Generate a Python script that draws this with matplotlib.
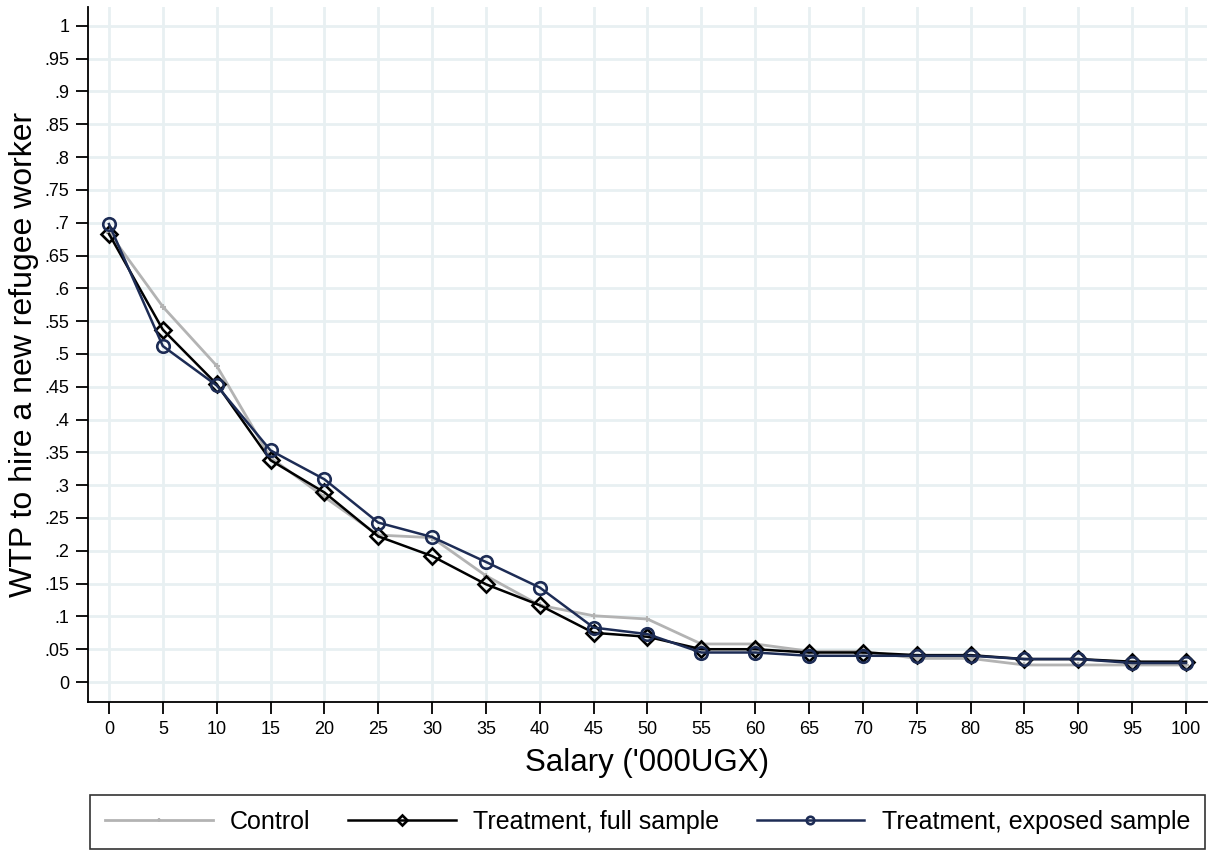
import numpy as np
import matplotlib
matplotlib.use("Agg")
import matplotlib.pyplot as plt

plt.rcParams['font.family'] = ['Liberation Sans', 'DejaVu Sans']

# Salary levels ('000 UGX) and share willing to hire
salary = [0, 5, 10, 15, 20, 25, 30, 35, 40, 45, 50,
          55, 60, 65, 70, 75, 80, 85, 90, 95, 100]
control = [0.685, 0.572, 0.482, 0.342, 0.282, 0.224, 0.220, 0.162, 0.117, 0.101, 0.096,
           0.058, 0.058, 0.047, 0.047, 0.036, 0.036, 0.026, 0.026, 0.026, 0.026]
treat_full = [0.683, 0.537, 0.454, 0.338, 0.289, 0.222, 0.192, 0.149, 0.117, 0.075, 0.069,
              0.050, 0.050, 0.045, 0.045, 0.041, 0.041, 0.035, 0.035, 0.031, 0.031]
treat_exposed = [0.698, 0.512, 0.452, 0.353, 0.309, 0.243, 0.221, 0.183, 0.144, 0.083, 0.073,
                 0.045, 0.045, 0.040, 0.040, 0.040, 0.040, 0.035, 0.035, 0.029, 0.029]

yticks = np.round(np.arange(0, 1.0001, 0.05), 2)
ytick_labels = ['0' if v == 0 else ('1' if v == 1 else ('%g' % v).lstrip('0')) for v in yticks]

fig = plt.figure(figsize=(12.15, 8.52), dpi=100)
ax = fig.add_axes([0.0724, 0.176, 0.921, 0.816])

grid_col = '#e8f0f2'
ax.set_xticks(salary)
ax.set_yticks(yticks)
ax.set_yticklabels(ytick_labels)
ax.grid(True, color=grid_col, linewidth=2.0, zorder=0)
ax.set_axisbelow(True)

ax.plot(salary, control, color='#b3b3b3', lw=2.0, marker='+', ms=4, mew=1.5,
        label='Control', zorder=2)
ax.plot(salary, treat_full, color='black', lw=1.8, marker='D', ms=8.5, mew=1.9,
        mfc='none', label='Treatment, full sample', zorder=3)
ax.plot(salary, treat_exposed, color='#1d2c55', lw=1.8, marker='o', ms=9, mew=1.9,
        mfc='none', label='Treatment, exposed sample', zorder=4)

ax.set_xlim(-1.95, 101.95)
ax.set_ylim(-0.0305, 1.029)

for s in ['top', 'right']:
    ax.spines[s].set_visible(False)
ax.spines['left'].set_linewidth(1.3)
ax.spines['bottom'].set_linewidth(1.3)
ax.tick_params(axis='both', labelsize=13, width=1.3, length=8.5, pad=5)

ax.set_xlabel("Salary ('000UGX)", fontsize=22.5, labelpad=7)
ax.set_ylabel("WTP to hire a new refugee worker", fontsize=23, labelpad=4)

leg = fig.legend(loc='center', bbox_to_anchor=(0.533, 0.0355), ncol=3, fontsize=18,
                 frameon=True, fancybox=False, edgecolor='black',
                 handlelength=4.3, handletextpad=0.7, columnspacing=1.5,
                 borderpad=0.6, borderaxespad=0, markerscale=0.6)
leg.get_frame().set_linewidth(1.2)

fig.savefig('out.png', dpi=100)
